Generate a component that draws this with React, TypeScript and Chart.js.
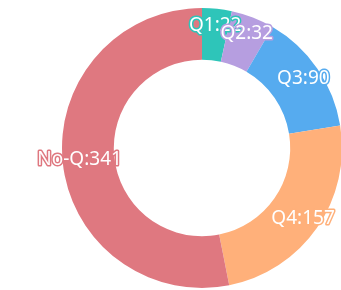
import React, { useEffect, useRef } from "react";
import { Chart, registerables } from "chart.js";

Chart.register(...registerables);

const categories = ["Q1", "Q2", "Q3", "Q4", "No-Q"];
const values = [22, 32, 90, 157, 341];
const colors = ["#2ec5b9", "#b69ee0", "#56abef", "#ffb07a", "#df7880"];

const labelPlugin = {
  id: "sliceLabels",
  afterDatasetsDraw(chart: any) {
    const ctx = chart.ctx;
    const meta = chart.getDatasetMeta(0);
    ctx.save();
    ctx.font = "19px 'Noto Sans', 'DejaVu Sans', sans-serif";
    ctx.textAlign = "center";
    ctx.textBaseline = "middle";
    ctx.lineJoin = "round";
    meta.data.forEach((arc: any, i: number) => {
      const p = arc.getProps(["x", "y", "startAngle", "endAngle", "outerRadius"], true);
      const mid = (p.startAngle + p.endAngle) / 2;
      const r = p.outerRadius - 17;
      const x = p.x + Math.cos(mid) * r;
      const y = p.y + Math.sin(mid) * r;
      const text = categories[i] + ":" + values[i];
      ctx.lineWidth = 3;
      ctx.strokeStyle = colors[i];
      ctx.strokeText(text, x, y);
      ctx.fillStyle = "#ffffff";
      ctx.fillText(text, x, y);
    });
    ctx.restore();
  },
};

export default function App() {
  const ref = useRef<HTMLCanvasElement>(null);
  useEffect(() => {
    if (!ref.current) return;
    const chart = new Chart(ref.current, {
      type: "doughnut",
      data: {
        labels: categories,
        datasets: [
          {
            data: values,
            backgroundColor: colors,
            borderWidth: 0,
          },
        ],
      },
      options: {
        responsive: false,
        animation: false,
        cutout: "63%",
        layout: { padding: { left: 62, top: 8, right: 8, bottom: 8 } },
        plugins: {
          legend: { display: false },
          tooltip: { enabled: false },
        },
      },
      plugins: [labelPlugin],
    });
    return () => chart.destroy();
  }, []);
  return (
    <div style={{ position: "fixed", left: 0, top: 0, width: 350, height: 296, background: "#ffffff" }}>
      <canvas ref={ref} width={350} height={296} />
    </div>
  );
}
